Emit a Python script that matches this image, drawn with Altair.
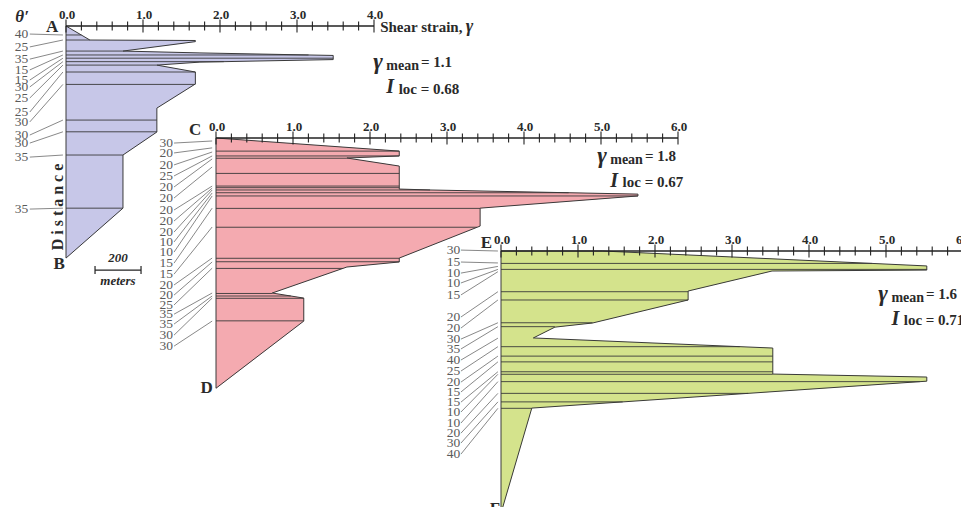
import altair as alt
import pandas as pd

SERIF = "Liberation Serif"
PX_PER_STRAIN = 77.0   # layout: pixels per unit of shear strain
PX_PER_M = 0.23        # layout: pixels per metre (200 m bar = 46 px)
W, H = 953, 499
MARGIN = 8

# ---------------- Profile A-B ----------------
A_strain = [0, 0.31, 1.68, 1.68, 0.74, 1.74, 3.47, 3.47, 1.74, 1.18, 1.68, 1.68, 1.18, 1.18, 0.74, 0.74, 0]
A_dist = [0, 61, 63, 68, 109, 117, 128, 146, 157, 170, 200, 252, 357, 461, 561, 792, 1009]
A_bnd_dist = [39, 61, 109, 126, 140, 155, 170, 200, 254, 409, 460, 561, 792]
A_bnd_strain = [0.20, 0.31, 0.74, 3.15, 3.47, 2.05, 1.18, 1.68, 1.68, 1.18, 1.18, 0.74, 0.74]
A_dips = [40, 25, 35, 15, 15, 30, 25, 25, 30, 30, 30, 35, 35]
A_dip_dist = [35, 91, 144, 191, 235, 265, 313, 374, 417, 474, 509, 570, 796]
A_lead_dist = [39, 61, 109, 126, 140, 155, 170, 200, 254, 409, 460, 561, 792]
A_gamma_mean, A_iloc = "1.1", "0.68"

# ---------------- Profile C-D ----------------
C_strain = [0, 2.38, 2.38, 1.70, 2.38, 2.38, 2.78, 5.48, 5.48, 3.43, 3.43, 2.38, 2.38, 1.70, 0.73, 1.14, 1.14, 0]
C_dist = [0, 57, 78, 87, 122, 222, 226, 244, 252, 305, 383, 522, 539, 561, 674, 696, 796, 1088]
C_bnd_dist = [57, 78, 88, 154, 209, 216, 226, 238, 252, 306, 388, 523, 538, 567, 676, 687, 697, 795]
C_bnd_strain = [2.38, 2.38, 1.70, 2.38, 2.38, 2.38, 2.78, 4.58, 5.48, 3.43, 3.39, 2.38, 2.38, 1.65, 0.73, 0.97, 1.14, 1.14]
C_dips = [30, 20, 20, 25, 20, 20, 20, 20, 20, 10, 10, 15, 15, 20, 20, 25, 35, 35, 30, 30]
C_dip_dist = [22, 65, 117, 165, 213, 261, 313, 361, 409, 452, 496, 544, 592, 639, 683, 726, 766, 809, 857, 905]
C_lead_dist = [13, 43, 61, 78, 91, 126, 209, 218, 226, 239, 252, 305, 387, 522, 539, 566, 674, 687, 696, 796]
C_gamma_mean, C_iloc = "1.8", "0.67"

# ---------------- Profile E-F ----------------
E_strain = [0, 1.32, 5.53, 5.53, 3.52, 2.43, 2.43, 1.19, 0.70, 0.42, 3.53, 3.53, 5.53, 5.53, 0.40, 0]
E_dist = [0, 0, 65, 83, 87, 174, 213, 313, 331, 378, 422, 535, 548, 566, 683, 1140]
E_bnd_dist = [54, 80, 177, 213, 312, 329, 416, 457, 482, 525, 536, 568, 619, 656, 684]
E_bnd_strain = [4.82, 5.53, 2.43, 2.43, 1.19, 0.70, 3.10, 3.53, 3.53, 3.53, 3.53, 5.44, 3.21, 1.58, 0.40]
E_dips = [30, 15, 10, 10, 15, 20, 20, 30, 35, 40, 25, 20, 15, 15, 10, 10, 20, 30, 40]
E_dip_dist = [-4, 48, 96, 139, 191, 287, 335, 383, 426, 474, 522, 570, 613, 657, 700, 748, 792, 835, 883]
E_lead_dist = [0, 52, 67, 80, 90, 177, 213, 312, 329, 379, 416, 457, 482, 525, 536, 568, 619, 656, 684]
E_gamma_mean, E_iloc = "1.6", "0.71"

OUTLINE = "#3a3a3a"
LEADER = "#6a6a6a"
DIPCOL = "#5a5a5a"
TXT = "#2a2a2a"


def tick_values(smax):
    return [round(i * 0.2, 1) for i in range(int(round(smax * 5)) + 1)]


def profile(ox, oy, smax, fill, out_s, out_d, bnd_d, bnd_s, dips, dip_d, lead_d,
            lab_x, lead_x0, lead_x1, letters, stats):
    xs = alt.Scale(domain=[0, smax], range=[ox - MARGIN, ox - MARGIN + smax * PX_PER_STRAIN],
                   nice=False, zero=False)
    ys = alt.Scale(domain=[0, 1000], range=[oy - MARGIN, oy - MARGIN + 1000 * PX_PER_M],
                   nice=False, zero=False)

    def X(f):
        return alt.X(f, type="quantitative", scale=xs, axis=None)

    def Y(f):
        return alt.Y(f, type="quantitative", scale=ys, axis=None)

    outline = pd.DataFrame({"s": out_s, "d": out_d, "z": 0.0, "i": range(len(out_s))})
    # filled area (distance is non-decreasing; drop a point whose distance repeats on the next one)
    adf = outline[outline["d"] != outline["d"].shift(-1)].reset_index(drop=True)
    area = alt.Chart(adf).mark_area(
        orient="horizontal", color=fill, fill=fill, opacity=1, strokeWidth=0
    ).encode(x=X("s"), x2="z:Q", y=Y("d"))
    # closed outline polygon (also filled)
    poly = alt.Chart(outline).mark_line(
        interpolate="linear-closed", fill=fill, stroke=OUTLINE, strokeWidth=1
    ).encode(x=X("s"), y=Y("d"), order=alt.Order("i:Q"))

    bnd = pd.DataFrame({"d": bnd_d, "s": bnd_s, "z": 0.0})
    bnd_rules = alt.Chart(bnd).mark_rule(color=OUTLINE, strokeWidth=0.9).encode(
        x=X("z"), x2="s:Q", y=Y("d"))

    ax = pd.DataFrame({"a": [0.0], "b": [smax], "d": [0.0]})
    ax_line = alt.Chart(ax).mark_rule(color="#222", strokeWidth=1.4).encode(
        x=X("a"), x2="b:Q", y=Y("d"))

    tv = tick_values(smax)
    major = [abs(v - round(v)) < 1e-9 for v in tv]
    half = [6.5 if m else 4.5 for m in major]
    ticks = pd.DataFrame({"s": tv, "y1": [-h / PX_PER_M for h in half],
                          "y2": [h / PX_PER_M for h in half]})
    tick_rules = alt.Chart(ticks).mark_rule(color="#222", strokeWidth=1.1).encode(
        x=X("s"), y=Y("y1"), y2="y2:Q")

    maj = pd.DataFrame({"s": [v for v, m in zip(tv, major) if m], "d": 0.0})
    maj["t"] = maj["s"].map(lambda v: f"{v:.1f}")
    tick_lab = alt.Chart(maj).mark_text(font=SERIF, fontSize=13, fontWeight="bold",
                                        color=TXT, dy=-11, dx=1, baseline="middle").encode(
        x=X("s"), y=Y("d"), text="t:N")

    dipdf = pd.DataFrame({"t": [str(v) for v in dips], "d": dip_d, "d2": lead_d,
                          "x": lab_x, "x0": lead_x0, "x1": lead_x1})
    dip_txt = alt.Chart(dipdf).mark_text(font=SERIF, fontSize=13.5, color=DIPCOL,
                                         align="right", baseline="middle").encode(
        x=X("x"), y=Y("d"), text="t:N")
    leaders = alt.Chart(dipdf).mark_rule(color=LEADER, strokeWidth=0.8).encode(
        x=X("x0"), x2="x1:Q", y=Y("d"), y2="d2:Q")

    let = pd.DataFrame(letters, columns=["t", "s", "d"])
    let_txt = alt.Chart(let).mark_text(font=SERIF, fontSize=17, fontWeight="bold",
                                       color=TXT, baseline="middle", align="center").encode(
        x=X("s"), y=Y("d"), text="t:N")

    layers = [area, poly, bnd_rules, leaders, dip_txt, ax_line, tick_rules, tick_lab, let_txt]
    for (txt, s, d, size, style, align) in stats:
        df = pd.DataFrame({"t": [txt], "s": [s], "d": [d]})
        layers.append(alt.Chart(df).mark_text(
            font=SERIF, fontSize=size, fontWeight="bold", fontStyle=style,
            color=TXT, align=align, baseline="middle").encode(
            x=X("s"), y=Y("d"), text="t:N"))
    return layers


def stat_block(gs, gd, mean_txt, iloc_txt):
    # gamma_mean and I_loc annotation, relative positions in (strain, metre) units
    return [
        ("γ", gs, gd, 23, "italic", "left"),
        ("mean", gs + 0.17, gd + 17, 14, "normal", "left"),
        ("= " + mean_txt, gs + 0.62, gd, 15, "normal", "left"),
        ("I", gs + 0.17, gd + 108, 20, "italic", "left"),
        ("loc = " + iloc_txt, gs + 0.33, gd + 115, 15, "normal", "left"),
    ]


# ---- A-B ----
A_layers = profile(
    66, 26, 4.0, "#c7c7e8", A_strain, A_dist, A_bnd_dist, A_bnd_strain,
    A_dips, A_dip_dist, A_lead_dist, -0.49, -0.47, -0.04,
    [("A", -0.18, 4), ("B", -0.09, 1035)],
    stat_block(3.99, 157, A_gamma_mean, A_iloc) + [
        ("θ′", -0.57, -38, 17, "italic", "center"),
        ("Shear strain,", 4.08, 4, 15, "normal", "left"),
        ("γ", 5.19, 4, 18, "italic", "left"),
        ("200", 0.675, 1009, 13, "italic", "center"),
        ("meters", 0.675, 1109, 13, "italic", "center"),
    ])
# scale bar and vertical "Distance" label inside profile A's coordinates
bar_s0 = 0.377
bar_len = 200 * PX_PER_M / PX_PER_STRAIN
xsA = alt.Scale(domain=[0, 4.0], range=[66 - MARGIN, 66 - MARGIN + 4.0 * PX_PER_STRAIN], nice=False, zero=False)
ysA = alt.Scale(domain=[0, 1000], range=[26 - MARGIN, 26 - MARGIN + 1000 * PX_PER_M], nice=False, zero=False)
bar = pd.DataFrame({"a": [bar_s0, bar_s0, bar_s0 + bar_len], "b": [bar_s0 + bar_len, bar_s0, bar_s0 + bar_len],
                    "d1": [1061, 1044, 1044], "d2": [1061, 1078, 1078]})
bar_rules = alt.Chart(bar).mark_rule(color="#222", strokeWidth=1.2).encode(
    x=alt.X("a:Q", scale=xsA, axis=None), x2="b:Q",
    y=alt.Y("d1:Q", scale=ysA, axis=None), y2="d2:Q")
dist_lab = alt.Chart(pd.DataFrame({"t": ["D i s t a n c e"], "s": [-0.11], "d": [787]})).mark_text(
    font=SERIF, fontSize=16, fontWeight="bold", color=TXT, angle=270,
    align="center", baseline="middle").encode(
    x=alt.X("s:Q", scale=xsA, axis=None), y=alt.Y("d:Q", scale=ysA, axis=None), text="t:N")
pA = alt.layer(*(A_layers + [bar_rules, dist_lab]))

# ---- C-D ----
pC = alt.layer(*profile(
    216, 138, 6.0, "#f4aab0", C_strain, C_dist, C_bnd_dist, C_bnd_strain,
    C_dips, C_dip_dist, C_lead_dist, -0.56, -0.545, -0.05,
    [("C", -0.27, -35), ("D", -0.12, 1088)],
    stat_block(4.95, 78, C_gamma_mean, C_iloc)))

# ---- E-F ----
pE = alt.layer(*profile(
    501, 251, 6.0, "#d4e38c", E_strain, E_dist, E_bnd_dist, E_bnd_strain,
    E_dips, E_dip_dist, E_lead_dist, -0.53, -0.52, -0.04,
    [("E", -0.19, -35), ("F", -0.08, 1123)],
    stat_block(4.90, 187, E_gamma_mean, E_iloc)))

chart = alt.layer(pA, pC, pE).resolve_scale(x="independent", y="independent").properties(
    width=W, height=H, autosize=alt.AutoSizeParams(type="none"), padding=0
).configure_view(stroke=None)

chart.save("out.html", embed_options={"renderer": "svg", "actions": False})
